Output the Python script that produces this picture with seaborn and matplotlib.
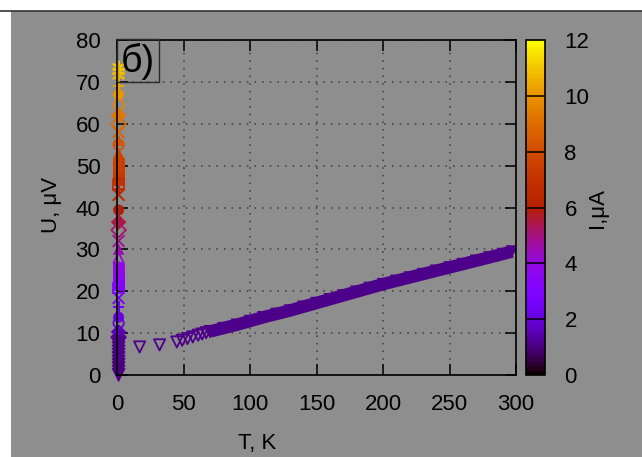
import numpy as np
import pandas as pd
import matplotlib
matplotlib.use("Agg")
import matplotlib.pyplot as plt
import seaborn as sns
from matplotlib.colors import Normalize
from matplotlib.patches import Rectangle
from matplotlib.lines import Line2D
import matplotlib.cm as cm

# ---------------- data ----------------
# dense high-temperature branch (T, K ; U, uV ; I, uA)
T_line = [70, 80, 90, 100, 110, 120, 130, 140, 150, 160, 170, 180, 190,
          200, 210, 220, 230, 240, 250, 260, 270, 280, 290, 297]
U_line = [10.4, 11.2, 12.0, 12.9, 13.8, 14.6, 15.4, 16.3, 17.2, 18.1, 19.0, 19.9, 20.8,
          21.7, 22.5, 23.3, 24.1, 24.9, 25.7, 26.5, 27.3, 28.1, 28.9, 29.5]
I_line = [1.1] * len(T_line)

# sparse open triangles of the same branch
T_tri = [17, 32, 45, 49, 53, 57, 61, 64, 67, 70]
U_tri = [6.7, 7.2, 7.9, 8.3, 8.7, 9.1, 9.5, 9.8, 10.1, 10.4]
I_tri = [1.1, 1.1, 1.1, 1.1, 1.1, 1.1, 1.1, 1.1, 1.1, 1.1]

# low-temperature vertical cluster (T ~ 1 K), grouped by marker
cluster = {
    "star":   dict(U=[73.5, 72.5, 71.5], I=[11.0, 10.9, 10.7]),
    "plus":   dict(U=[69.0, 44.5, 16.2], I=[10.3, 6.7, 2.4]),
    "cross":  dict(U=[58.0, 43.0, 32.0, 18.4], I=[8.7, 6.4, 4.8, 2.8]),
    "circle": dict(U=[67.0, 39.4, 25.8, 13.8], I=[10.0, 5.9, 3.9, 2.1]),
    "ocircle": dict(U=[64.5, 55.0, 12.4], I=[9.7, 8.2, 1.9]),
    "diamond": dict(U=[62.0, 36.5, 10.3], I=[9.3, 5.5, 1.6]),
    "odiamond": dict(U=[60.0, 34.6, 9.0], I=[9.0, 5.2, 1.4]),
    "tri":    dict(U=[56.0, 53.0, 30.0], I=[8.4, 7.9, 4.5]),
    "otri":   dict(U=[51.5, 28.0], I=[7.7, 4.2]),
    "square": dict(U=[46.5, 47.5, 48.5, 49.5, 50.5, 21.5, 22.5, 23.5, 24.5, 25.5],
                   I=[7.0, 7.1, 7.3, 7.4, 7.6, 3.2, 3.4, 3.5, 3.7, 3.8]),
    "osquare": dict(U=[45.5, 20.8], I=[6.8, 3.1]),
    "vfill":  dict(U=[0.0, 0.8, 1.6, 2.4, 3.2, 4.0, 4.8, 5.6, 6.4, 7.2, 7.8],
                   I=[1.0, 1.0, 1.0, 1.0, 1.0, 1.1, 1.1, 1.1, 1.1, 1.1, 1.1]),
}
T_cluster = 1.2

x_ticks = [0, 50, 100, 150, 200, 250, 300]
y_ticks = [0, 10, 20, 30, 40, 50, 60, 70, 80]
cb_ticks = [0, 2, 4, 6, 8, 10, 12]

# ---------------- styling ----------------
sns.set_theme(style="ticks")
plt.rcParams["font.family"] = ["Liberation Sans", "DejaVu Sans"]
plt.rcParams["text.color"] = "black"
plt.rcParams["axes.labelcolor"] = "black"
BG = "#8e8e8e"
cmap = plt.get_cmap("gnuplot")
norm = Normalize(0, 12)

W, H = 642, 457
fig = plt.figure(figsize=(W / 100, H / 100), dpi=100, facecolor=BG)

# white margins + top line
fig.patches.append(Rectangle((0, 1 - 10.5 / H), 1, 10.5 / H, transform=fig.transFigure,
                             facecolor="white", edgecolor="none", zorder=-10))
fig.patches.append(Rectangle((0, 0), 11 / W, 1, transform=fig.transFigure,
                             facecolor="white", edgecolor="none", zorder=-10))
fig.lines.append(Line2D([0, 1], [1 - 10.5 / H, 1 - 10.5 / H], transform=fig.transFigure,
                        color="#333333", lw=1.2))

L, R, T, B = 117, 516, 40, 375
ax = fig.add_axes([L / W, 1 - B / H, (R - L) / W, (B - T) / H])
ax.set_facecolor(BG)

# main branch: thick band through the points
df_line = pd.DataFrame({"T": T_line, "U": U_line, "I": I_line})
sns.lineplot(data=df_line, x="T", y="U", color=cmap(norm(1.1)), lw=9, ax=ax,
             solid_capstyle="butt", legend=False)
sns.scatterplot(data=df_line, x="T", y="U", hue="I", palette="gnuplot", hue_norm=(0, 12),
                marker="v", s=80, edgecolor=None, linewidth=0, legend=False, ax=ax)

ax.scatter(T_tri, U_tri, marker="v", s=65, facecolors="none",
           edgecolors=[cmap(norm(v)) for v in I_tri], linewidths=1.3, clip_on=False)

mk = {
    "star": ((6, 2, 0), True), "plus": ("+", True), "cross": ("x", True),
    "circle": ("o", True), "ocircle": ("o", False), "diamond": ("D", True),
    "odiamond": ("D", False), "tri": ("^", True), "otri": ("^", False),
    "square": ("s", True), "osquare": ("s", False), "vfill": ("v", True),
}
for key, d in cluster.items():
    m, filled = mk[key]
    cols = [cmap(norm(v)) for v in d["I"]]
    xs = [T_cluster] * len(d["U"])
    size = 55 if key != "vfill" else 90
    if m in ("+", "x") or isinstance(m, tuple):
        ax.scatter(xs, d["U"], marker=m, s=70, c=cols, linewidths=1.4, clip_on=False)
    elif filled:
        ax.scatter(xs, d["U"], marker=m, s=size, c=cols, edgecolors=cols,
                   linewidths=0.5, clip_on=False)
    else:
        ax.scatter(xs, d["U"], marker=m, s=size, facecolors="none", edgecolors=cols,
                   linewidths=1.3, clip_on=False)

ax.set_xlim(0, 300)
ax.set_ylim(0, 80)
ax.set_xticks(x_ticks)
ax.set_yticks(y_ticks)
ax.set_xticklabels([str(v) for v in x_ticks])
ax.set_yticklabels([str(v) for v in y_ticks])
ax.set_xlabel("")
ax.set_ylabel("")
ax.tick_params(direction="in", length=8, width=1.1, top=True, right=True,
               labelsize=16, colors="black")
ax.tick_params(axis="x", pad=14)
ax.tick_params(axis="y", pad=12)
ax.grid(True, color="#3c3c3c", linestyle=(0, (1, 4)), lw=1.1)
for s in ax.spines.values():
    s.set_visible(True)
    s.set_color("black")
    s.set_linewidth(1.2)

# panel label box
bx0, by0, bx1, by1 = 117, 39, 159, 82
fig.patches.append(Rectangle((bx0 / W, 1 - by1 / H), (bx1 - bx0) / W, (by1 - by0) / H,
                             transform=fig.transFigure, facecolor="none",
                             edgecolor="#2a2a2a", lw=1.0, zorder=5))
fig.text((bx0 + bx1) / 2 / W, 1 - 61 / H, "б)", fontsize=27, ha="center", va="center",
         color="black")

# colorbar
cL, cR = 526, 545
cax = fig.add_axes([cL / W, 1 - B / H, (cR - cL) / W, (B - T) / H])
sm = cm.ScalarMappable(norm=norm, cmap=cmap)
cb = fig.colorbar(sm, cax=cax, ticks=cb_ticks)
cb.outline.set_edgecolor("black")
cb.outline.set_linewidth(1.2)
for v in cb_ticks[1:-1]:
    cax.axhline(v, color="black", lw=1.1)
cax.tick_params(length=0, labelsize=16, pad=14, colors="black")
cax.set_yticklabels([str(v) for v in cb_ticks])

# axis titles
fig.text(257 / W, 1 - 444 / H, "T, K", fontsize=16, ha="center", va="center", color="black")
fig.text(52 / W, 1 - 205 / H, "U, μV", fontsize=16, ha="center", va="center", rotation=90,
         color="black")
fig.text(598 / W, 1 - 208 / H, "I,μA", fontsize=16, ha="center", va="center", rotation=90,
         color="black")

fig.savefig("out.png", dpi=100, facecolor=BG)
